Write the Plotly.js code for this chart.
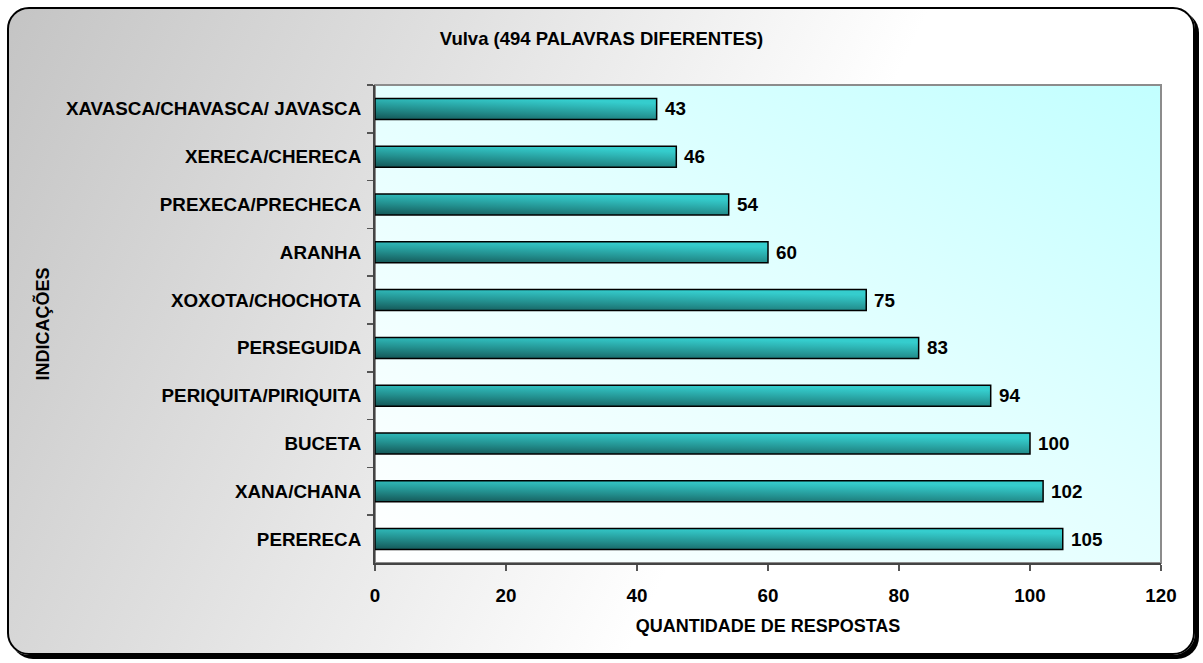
<!DOCTYPE html>
<html>
<head>
<meta charset="utf-8">
<script src="https://cdn.plot.ly/plotly-3.0.1.min.js"></script>
<style>
  html, body { margin: 0; padding: 0; width: 1203px; height: 663px; overflow: hidden; background: #ffffff; }
  #frame {
    position: absolute; left: 7px; top: 7px; width: 1184px; height: 644px;
    border: 2px solid #000; border-radius: 22px;
    box-shadow: 4px 4px 0 #000;
    background: linear-gradient(115deg, #c4c4c4 0%, #e0e0e0 30%, #ffffff 62%, #ffffff 100%);
  }
  #chart { position: absolute; left: 0; top: 0; width: 1203px; height: 663px; }
</style>
</head>
<body>
<div id="frame"></div>
<div id="chart"></div>
<script>
// Categories listed top to bottom as in the chart
const categories = [
  "XAVASCA/CHAVASCA/ JAVASCA",
  "XERECA/CHERECA",
  "PREXECA/PRECHECA",
  "ARANHA",
  "XOXOTA/CHOCHOTA",
  "PERSEGUIDA",
  "PERIQUITA/PIRIQUITA",
  "BUCETA",
  "XANA/CHANA",
  "PERERECA"
];
const respostas = [43, 46, 54, 60, 75, 83, 94, 100, 102, 105];
const xTickValues = [0, 20, 40, 60, 80, 100, 120];

const chartTitle = "Vulva (494 PALAVRAS DIFERENTES)";
const xTitle = "QUANTIDADE DE RESPOSTAS";
const yTitle = "INDICAÇÕES";

const FONT = "Liberation Sans, Arial, Helvetica, sans-serif";
const FS = 18.8;
const FT = 18;

const plotBgSvg = '<svg xmlns="http://www.w3.org/2000/svg" width="100" height="100" preserveAspectRatio="none">' +
  '<defs><linearGradient id="g" x1="0" y1="1" x2="1" y2="0">' +
  '<stop offset="0" stop-color="#ffffff"/><stop offset="0.55" stop-color="#e2ffff"/><stop offset="1" stop-color="#c2ffff"/>' +
  '</linearGradient></defs><rect width="100" height="100" fill="url(#g)"/></svg>';

const trace = {
  type: "bar",
  orientation: "h",
  y: categories,
  x: respostas,
  cliponaxis: false,
  marker: { color: "#2eb5b5", line: { color: "#000", width: 1.5 } },
  hoverinfo: "skip"
};

// value labels placed through the data scales
const valueLabels = respostas.map(function (v, i) {
  return {
    x: v, y: categories[i], xref: "x", yref: "y",
    text: String(v), showarrow: false,
    xanchor: "left", yanchor: "middle", xshift: 6,
    font: { family: FONT, size: FS, color: "#000", weight: "bold" }
  };
});

const layout = {
  width: 1203,
  height: 663,
  margin: { l: 375, r: 42, t: 85, b: 100 },
  paper_bgcolor: "rgba(0,0,0,0)",
  plot_bgcolor: "rgba(0,0,0,0)",
  bargap: 0.56,
  showlegend: false,
  hovermode: false,
  font: { family: FONT, size: FS, color: "#000" },
  title: {
    text: chartTitle,
    font: { family: FONT, size: 18.5, color: "#000", weight: "bold" },
    x: 0.5, xref: "container", xanchor: "center",
    y: 1 - 39 / 663, yref: "container", yanchor: "middle"
  },
  xaxis: {
    range: [0, 120],
    tickvals: xTickValues,
    ticktext: xTickValues.map(String),
    ticks: "outside", ticklen: 6, tickwidth: 1.5, tickcolor: "#555",
    showline: true, linecolor: "#444", linewidth: 2,
    showgrid: false, zeroline: false,
    tickfont: { family: FONT, size: FS, color: "#000", weight: "bold" },
    ticklabelstandoff: 8,
    title: { text: xTitle, font: { family: FONT, size: FT, color: "#000", weight: "bold" }, standoff: 15 }
  },
  yaxis: {
    type: "category",
    autorange: "reversed",
    tickson: "boundaries",
    ticks: "outside", ticklen: 6, tickwidth: 1.5, tickcolor: "#555",
    showline: true, linecolor: "#444", linewidth: 2,
    showgrid: false, zeroline: false,
    tickfont: { family: FONT, size: FS, color: "#000", weight: "bold" },
    ticklabelstandoff: 8,
    title: { text: yTitle, font: { family: FONT, size: FT, color: "#000", weight: "bold" }, standoff: 12 }
  },
  annotations: valueLabels,
  images: [{
    source: "data:image/svg+xml;charset=utf-8," + encodeURIComponent(plotBgSvg),
    xref: "paper", yref: "paper", x: 0, y: 1, sizex: 1, sizey: 1,
    xanchor: "left", yanchor: "top", sizing: "stretch", layer: "below"
  }],
  shapes: [{
    type: "rect", xref: "paper", yref: "paper", x0: 0, x1: 1, y0: 0, y1: 1,
    line: { color: "#8c8c8c", width: 2 }, fillcolor: "rgba(0,0,0,0)", layer: "below"
  }]
};

Plotly.newPlot("chart", [trace], layout, { staticPlot: true, displayModeBar: false }).then(function (gd) {
  const svgNS = "http://www.w3.org/2000/svg";
  const svg = gd.querySelector("svg.main-svg");
  let defs = svg.querySelector("defs");
  if (!defs) { defs = document.createElementNS(svgNS, "defs"); svg.insertBefore(defs, svg.firstChild); }
  const grad = document.createElementNS(svgNS, "linearGradient");
  grad.setAttribute("id", "barGrad");
  grad.setAttribute("x1", "0"); grad.setAttribute("y1", "1");
  grad.setAttribute("x2", "0.5"); grad.setAttribute("y2", "0");
  [["0", "#145656"], ["0.45", "#23908f"], ["0.8", "#2fb8b8"], ["1", "#35cdcd"]].forEach(function (s) {
    const st = document.createElementNS(svgNS, "stop");
    st.setAttribute("offset", s[0]); st.setAttribute("stop-color", s[1]);
    grad.appendChild(st);
  });
  defs.appendChild(grad);
  gd.querySelectorAll(".trace.bars .point path").forEach(function (p) {
    p.style.fill = "url(#barGrad)";
  });
});
</script>
</body>
</html>
